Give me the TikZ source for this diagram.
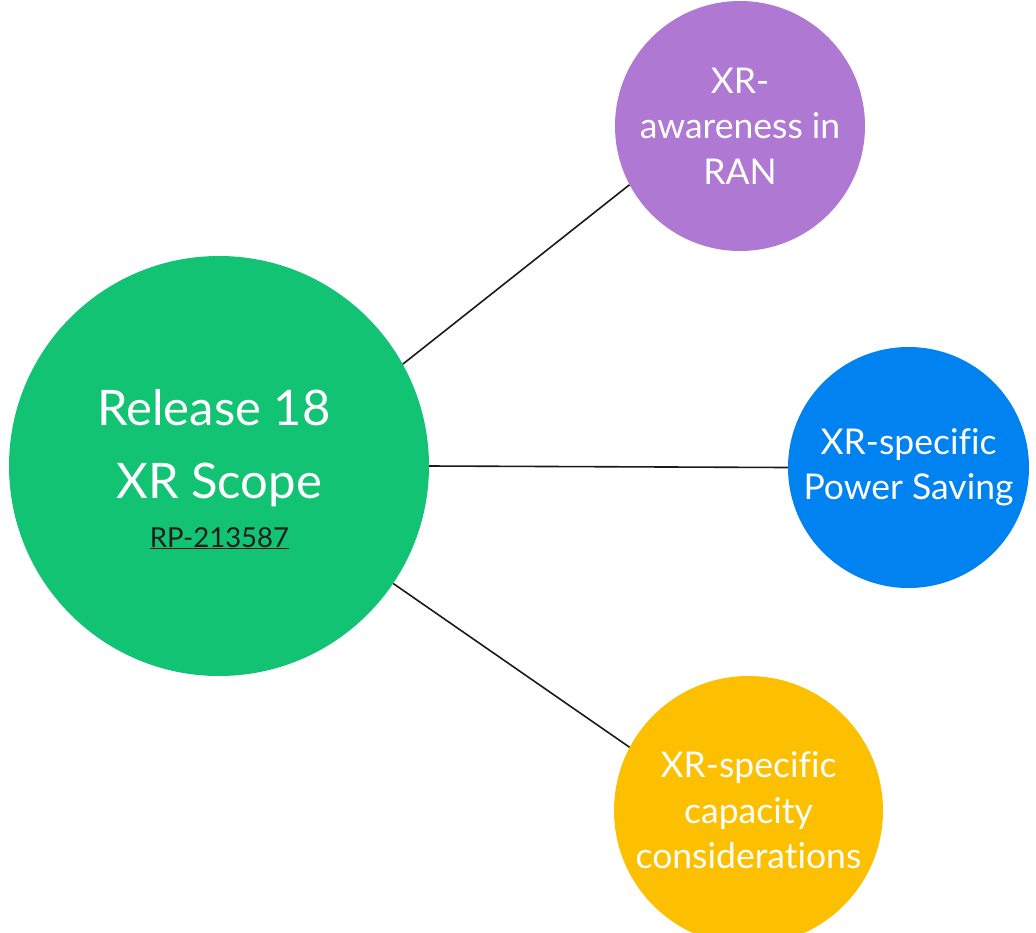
\documentclass[tikz,border=0pt]{standalone}
\usepackage{fontspec}
\setmainfont{Lato}[Ligatures=NoCommon]
\definecolor{scopegreen}{HTML}{12C373}
\definecolor{ranpurple}{HTML}{AF78D2}
\definecolor{powerblue}{HTML}{0082F0}
\definecolor{capyellow}{HTML}{FCC000}
\definecolor{linkink}{HTML}{1E1E1E}
\definecolor{edgeink}{HTML}{1A1A1A}
\tikzset{
  bubble/.style={circle, inner sep=0pt, text=white, align=center,
    font=\fontsize{35.5}{45.5}\selectfont},
  title/.style={text=white, inner sep=0pt, anchor=base,
    font=\fontsize{49}{55}\selectfont},
  link/.style={text=linkink, inner sep=0pt, anchor=base,
    font=\fontsize{27.5}{32}\selectfont},
  spoke/.style={draw=edgeink, line width=1.6pt}
}
\begin{document}
\begin{tikzpicture}[x=1pt, y=-1pt]
  \useasboundingbox (0,0) rectangle (1036,932);
  \clip (0,0) rectangle (1036,932);

  % central topic
  \node[circle, inner sep=0pt, minimum size=420pt, fill=scopegreen] (scope) at (219,466) {};
  \node[title] (rel) at (214,425) {Release 18};
  \node[title] (xrs) at (219,498) {XR Scope};
  \node[link] (rp) at (219.5,547) {\underline{RP-213587}};

  % work areas
  \node[bubble, minimum size=250pt, fill=ranpurple] (ran) at (740,126) {XR-\\awareness in\\RAN};
  \node[bubble, minimum size=241pt, fill=powerblue] (pwr) at (908.5,467.5) {XR-specific\\Power Saving};
  \node[bubble, minimum size=269pt, fill=capyellow] (cap) at (748.5,810.5) {XR-specific\\capacity\\considerations};

  % spokes
  \draw[spoke] (scope.29.6) -- (ran.208);
  \draw[spoke] (scope.0) -- (pwr.180);
  \draw[spoke] (scope.-34) -- (cap.152);
\end{tikzpicture}
\end{document}
